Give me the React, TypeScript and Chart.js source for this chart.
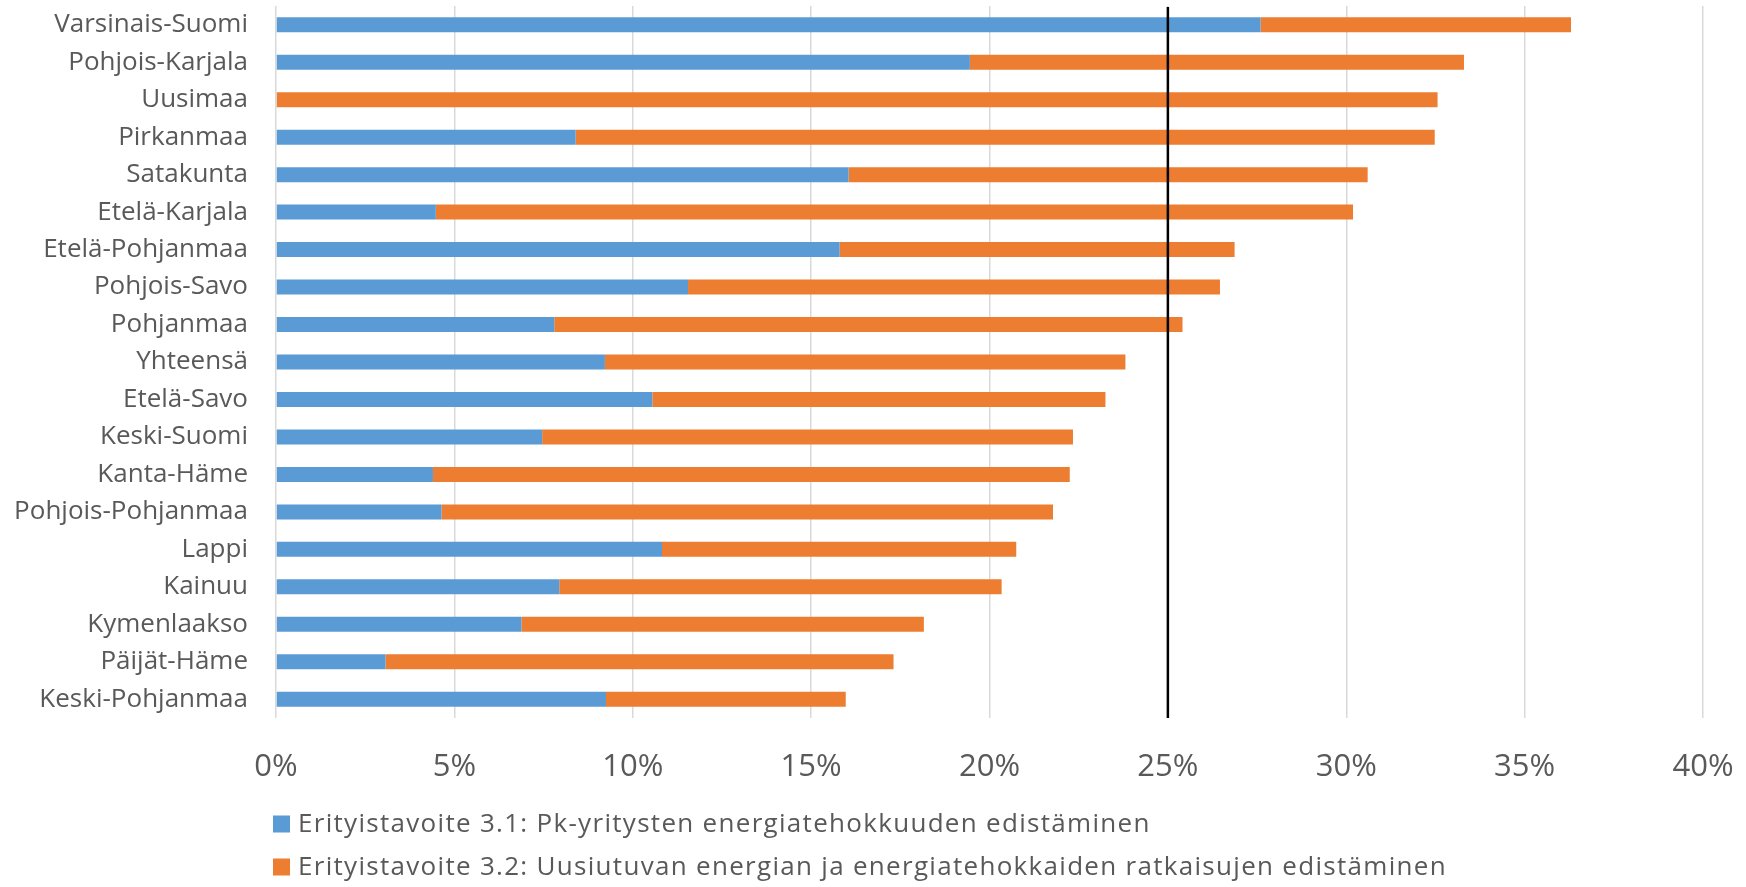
import React, { useEffect, useRef } from "react";
import { Chart, registerables } from "chart.js";

Chart.register(...registerables);

const categories = [
  "Varsinais-Suomi",
  "Pohjois-Karjala",
  "Uusimaa",
  "Pirkanmaa",
  "Satakunta",
  "Etelä-Karjala",
  "Etelä-Pohjanmaa",
  "Pohjois-Savo",
  "Pohjanmaa",
  "Yhteensä",
  "Etelä-Savo",
  "Keski-Suomi",
  "Kanta-Häme",
  "Pohjois-Pohjanmaa",
  "Lappi",
  "Kainuu",
  "Kymenlaakso",
  "Päijät-Häme",
  "Keski-Pohjanmaa",
];

const series1Label = "Erityistavoite 3.1: Pk-yritysten energiatehokkuuden edistäminen";
const series2Label =
  "Erityistavoite 3.2: Uusiutuvan energian ja energiatehokkaiden ratkaisujen edistäminen";

// percent values
const series1 = [27.6, 19.45, 0, 8.4, 16.05, 4.48, 15.8, 11.55, 7.8, 9.22, 10.55, 7.46, 4.4, 4.64, 10.82, 7.94, 6.88, 3.07, 9.25];
const series2 = [8.7, 13.85, 32.56, 24.08, 14.55, 25.71, 11.07, 14.91, 17.61, 14.59, 12.7, 14.88, 17.85, 17.14, 9.93, 12.4, 11.28, 14.24, 6.72];

const xMin = 0;
const xMax = 40;
const xStep = 5;
const targetLine = 25;

const BLUE = "#5B9BD5";
const ORANGE = "#ED7D31";
const TEXT = "#595959";
const FONT = '"Open Sans", "Noto Sans", sans-serif';

export default function App() {
  const canvasRef = useRef<HTMLCanvasElement | null>(null);

  useEffect(() => {
    const canvas = canvasRef.current;
    if (!canvas) return;

    const refLinePlugin = {
      id: "refLine",
      afterDatasetsDraw(chart: any) {
        const ctx = chart.ctx;
        const x = chart.scales.x.getPixelForValue(targetLine);
        const { top, bottom } = chart.chartArea;
        ctx.save();
        ctx.strokeStyle = "#000000";
        ctx.lineWidth = 2.5;
        ctx.beginPath();
        ctx.moveTo(x, top + 1);
        ctx.lineTo(x, bottom);
        ctx.stroke();
        ctx.restore();
      },
    };

    const legendPlugin = {
      id: "stackedLegend",
      afterDraw(chart: any) {
        const ctx = chart.ctx;
        const area = chart.chartArea;
        ctx.save();
        ctx.font = `26px ${FONT}`;
        try {
          (ctx as any).letterSpacing = "1.3px";
        } catch (e) {}
        ctx.textBaseline = "middle";
        ctx.textAlign = "left";
        chart.data.datasets.forEach((ds: any, i: number) => {
          const y = area.bottom + 106 + i * 43;
          ctx.fillStyle = ds.backgroundColor;
          ctx.fillRect(273, y - 8.5, 17, 17);
          ctx.fillStyle = TEXT;
          ctx.fillText(ds.label, 298, y + 1);
        });
        try {
          (ctx as any).letterSpacing = "0px";
        } catch (e) {}
        ctx.restore();
      },
    };

    const chart = new Chart(canvas, {
      type: "bar",
      data: {
        labels: categories,
        datasets: [
          {
            label: series1Label,
            data: series1,
            backgroundColor: BLUE,
            barPercentage: 0.4,
            categoryPercentage: 1,
          },
          {
            label: series2Label,
            data: series2,
            backgroundColor: ORANGE,
            barPercentage: 0.4,
            categoryPercentage: 1,
          },
        ],
      },
      options: {
        indexAxis: "y",
        animation: false,
        responsive: true,
        maintainAspectRatio: false,
        layout: { padding: { left: 0, right: 43, top: 6, bottom: 99 } },
        plugins: {
          legend: { display: false },
          tooltip: { enabled: false },
        },
        scales: {
          x: {
            stacked: true,
            min: xMin,
            max: xMax,
            border: { display: false },
            grid: { color: "#D9D9D9", lineWidth: 1.5, drawTicks: false },
            ticks: {
              stepSize: xStep,
              padding: 31,
              color: TEXT,
              font: { family: FONT, size: 31 },
              callback: (v: any) => `${v}%`,
            },
            afterFit: (scale: any) => {
              scale.height = 70;
              scale.paddingLeft = 0;
              scale.paddingRight = 0;
            },
          },
          y: {
            stacked: true,
            border: { display: false },
            grid: { display: false, drawTicks: false },
            ticks: {
              padding: 28,
              color: TEXT,
              font: { family: FONT, size: 26 },
              autoSkip: false,
            },
            afterFit: (scale: any) => {
              scale.width = 276;
              scale.paddingTop = 0;
              scale.paddingBottom = 0;
            },
          },
        },
      },
      plugins: [refLinePlugin, legendPlugin],
    });

    return () => chart.destroy();
  }, []);

  return (
    <div style={{ position: "fixed", left: 0, top: 0, width: 1746, height: 887, background: "#fff" }}>
      <canvas ref={canvasRef} />
    </div>
  );
}
